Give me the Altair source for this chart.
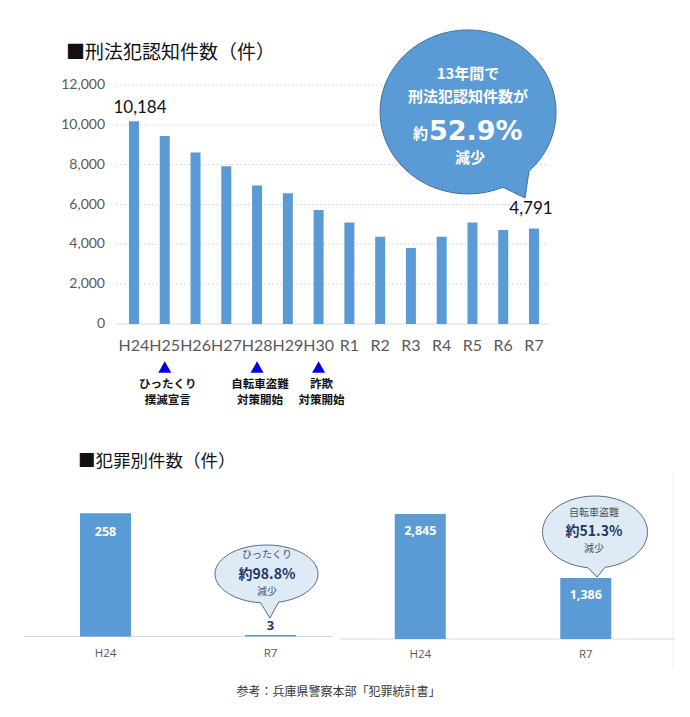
import altair as alt
import pandas as pd

# ---------------- data ----------------
years = ["H24", "H25", "H26", "H27", "H28", "H29", "H30", "R1", "R2", "R3", "R4", "R5", "R6", "R7"]
counts = [10184, 9440, 8610, 7920, 6950, 6560, 5730, 5100, 4380, 3820, 4380, 5090, 4720, 4791]
y_ticks = [0, 2000, 4000, 6000, 8000, 10000, 12000]
grid_ticks = [2000, 4000, 6000, 8000, 10000, 12000]

event_years = ["H25", "H28", "H30"]
event_line1 = ["ひったくり", "自転車盗難", "詐欺"]
event_line2 = ["撲滅宣言", "対策開始", "対策開始"]

periods = ["H24", "R7"]
snatch_counts = [258, 3]
bicycle_counts = [2845, 1386]

JP = "Noto Sans CJK JP"
LAT = "Lato"
BLUE = "#5B9BD5"
GRAY = "#595959"

top_df = pd.DataFrame({"year": years, "count": counts})
tick_df = pd.DataFrame({"v": y_ticks})
grid_df = pd.DataFrame({"v": grid_ticks})
event_df = pd.DataFrame({"year": event_years, "l1": event_line1, "l2": event_line2})
snatch_df = pd.DataFrame({"period": periods, "count": snatch_counts})
bike_df = pd.DataFrame({"period": periods, "count": bicycle_counts})

# ---------------- scales ----------------
xs_top = alt.Scale(type="band", domain=years, range=[118.6, 549.4], paddingInner=0, paddingOuter=0)
ys_top = alt.Scale(domain=[0, 12000], range=[324, 85], nice=False, zero=True)
xs_l = alt.Scale(type="band", domain=periods, range=[23, 353], paddingInner=0, paddingOuter=0)
ys_l = alt.Scale(domain=[0, 300], range=[636.5, 493.25], nice=False, zero=True)
xs_r = alt.Scale(type="band", domain=periods, range=[337.5, 668.5], paddingInner=0, paddingOuter=0)
ys_r = alt.Scale(domain=[0, 3000], range=[639, 507.2], nice=False, zero=True)

one = alt.Data(values=[{"a": 1}])


def label(txt, x, y, size, color="#000000", weight="normal", align="center",
          baseline="middle", font=JP):
    return alt.Chart(one).mark_text(
        text=txt, fontSize=size, color=color, fontWeight=weight, align=align,
        baseline=baseline, font=font
    ).encode(x=alt.value(x), y=alt.value(y))


def hline(x1, x2, y, color, dash=None, width=1):
    kw = dict(color=color, strokeWidth=width)
    if dash:
        kw["strokeDash"] = dash
    return alt.Chart(one).mark_rule(**kw).encode(x=alt.value(x1), x2=alt.value(x2), y=alt.value(y))


layers = []

# ---------------- top chart ----------------
layers.append(label("■刑法犯認知件数（件）", 66, 53, 19, "#111111", align="left"))

layers.append(alt.Chart(grid_df).mark_rule(color="#D9D9D9", strokeDash=[2, 2], strokeWidth=1).encode(
    y=alt.Y("v:Q", scale=ys_top, axis=None), x=alt.value(116), x2=alt.value(549)))
layers.append(hline(116, 549, 324, "#D9D9D9"))

layers.append(alt.Chart(tick_df).mark_text(align="right", baseline="middle", fontSize=14,
                                            color=GRAY, font=LAT).encode(
    y=alt.Y("v:Q", scale=ys_top, axis=None), x=alt.value(105),
    text=alt.Text("v:Q", format=",")))

layers.append(alt.Chart(top_df).mark_bar(size=10, color=BLUE).encode(
    x=alt.X("year:N", scale=xs_top, axis=None),
    y=alt.Y("count:Q", scale=ys_top, axis=None)))

layers.append(alt.Chart(top_df).mark_text(fontSize=16, color=GRAY, font=LAT, baseline="middle").encode(
    x=alt.X("year:N", scale=xs_top, axis=None), y=alt.value(346), text="year:N"))

first_df = top_df[top_df["year"] == "H24"]
last_df = top_df[top_df["year"] == "R7"]
layers.append(alt.Chart(first_df).mark_text(fontSize=17, color="#111111", font=LAT, dx=6, dy=-13,
                                             baseline="middle").encode(
    x=alt.X("year:N", scale=xs_top, axis=None), y=alt.Y("count:Q", scale=ys_top, axis=None),
    text=alt.Text("count:Q", format=",")))
layers.append(alt.Chart(last_df).mark_text(fontSize=17, color="#111111", font=LAT, dx=-3, dy=-20,
                                            baseline="middle").encode(
    x=alt.X("year:N", scale=xs_top, axis=None), y=alt.Y("count:Q", scale=ys_top, axis=None),
    text=alt.Text("count:Q", format=",")))

layers.append(alt.Chart(event_df).mark_point(shape="triangle-up", filled=True, size=170,
                                              color="#0000E6", opacity=1).encode(
    x=alt.X("year:N", scale=xs_top, axis=None), y=alt.value(367)))
layers.append(alt.Chart(event_df).mark_text(fontSize=11.5, fontWeight="bold", color="#111111", font=JP,
                                             dx=3, baseline="middle").encode(
    x=alt.X("year:N", scale=xs_top, axis=None), y=alt.value(385), text="l1:N"))
layers.append(alt.Chart(event_df).mark_text(fontSize=11.5, fontWeight="bold", color="#111111", font=JP,
                                             dx=3, baseline="middle").encode(
    x=alt.X("year:N", scale=xs_top, axis=None), y=alt.value(401), text="l2:N"))

# big speech bubble
big_bubble = "M0.35,0.752L0.57,0.86L0.61,0.591A0.88,0.82,0,1,0,0.35,0.752Z"
layers.append(alt.Chart(one).mark_point(shape=big_bubble, filled=True, size=40000, fill=BLUE,
                                        stroke="#41719C", strokeWidth=1, opacity=1).encode(
    x=alt.value(468), y=alt.value(112)))
layers.append(label("13年間で", 468, 74, 15, "#FFFFFF", "bold"))
layers.append(label("刑法犯認知件数が", 468, 97, 15, "#FFFFFF", "bold"))
layers.append(label("約", 428, 139, 15, "#FFFFFF", "bold", align="right", baseline="alphabetic"))
layers.append(label("52.9%", 429, 140, 27, "#FFFFFF", "bold", align="left", baseline="alphabetic",
                    font="DejaVu Sans"))
layers.append(label("減少", 470, 158, 15, "#FFFFFF", "bold"))

# ---------------- bottom charts ----------------
layers.append(label("■犯罪別件数（件）", 78, 462, 17.5, "#111111", align="left"))

layers.append(hline(24, 333, 636.5, "#D9D9D9"))
layers.append(hline(340, 675, 639, "#D9D9D9"))
layers.append(alt.Chart(one).mark_rule(color="#EDEDED").encode(
    x=alt.value(673), y=alt.value(472), y2=alt.value(668)))

# left: snatching
layers.append(alt.Chart(snatch_df).mark_bar(size=51, color=BLUE).encode(
    x=alt.X("period:N", scale=xs_l, axis=None), y=alt.Y("count:Q", scale=ys_l, axis=None)))
layers.append(alt.Chart(snatch_df).transform_filter(alt.datum.period == "H24").mark_text(
    fontSize=12.5, fontWeight="bold", color="#FFFFFF", font="Open Sans", dy=19, baseline="middle").encode(
    x=alt.X("period:N", scale=xs_l, axis=None), y=alt.Y("count:Q", scale=ys_l, axis=None),
    text=alt.Text("count:Q", format=",")))
layers.append(alt.Chart(snatch_df).transform_filter(alt.datum.period == "R7").mark_text(
    fontSize=13, fontWeight="bold", color="#1F3864", font="Open Sans", dy=-9, baseline="middle").encode(
    x=alt.X("period:N", scale=xs_l, axis=None), y=alt.Y("count:Q", scale=ys_l, axis=None),
    text=alt.Text("count:Q", format=",")))
layers.append(alt.Chart(snatch_df).mark_text(fontSize=11.5, color=GRAY, font="Open Sans", baseline="middle").encode(
    x=alt.X("period:N", scale=xs_l, axis=None), y=alt.value(654), text="period:N"))

# right: bicycle theft
layers.append(alt.Chart(bike_df).mark_bar(size=51, color=BLUE).encode(
    x=alt.X("period:N", scale=xs_r, axis=None), y=alt.Y("count:Q", scale=ys_r, axis=None)))
layers.append(alt.Chart(bike_df).mark_text(
    fontSize=12.5, fontWeight="bold", color="#FFFFFF", font="Open Sans", dy=17, baseline="middle").encode(
    x=alt.X("period:N", scale=xs_r, axis=None), y=alt.Y("count:Q", scale=ys_r, axis=None),
    text=alt.Text("count:Q", format=",")))
layers.append(alt.Chart(bike_df).mark_text(fontSize=11.5, color=GRAY, font="Open Sans", baseline="middle").encode(
    x=alt.X("period:N", scale=xs_r, axis=None), y=alt.value(655), text="period:N"))

# callouts
left_callout = "M-0.1,0.48L0.0583,0.7333L0.2,0.47A0.8583,0.4833,0,1,0,-0.1,0.48Z"
right_callout = "M-0.1167,0.5947L0.0333,0.75L0.1667,0.589A0.875,0.6,0,1,0,-0.1167,0.5947Z"
for shp, cx, cy in [(left_callout, 266.5, 574), (right_callout, 595, 532)]:
    layers.append(alt.Chart(one).mark_point(shape=shp, filled=True, size=14400, fill="#DEEBF7",
                                            stroke="#5A6B80", strokeWidth=1, opacity=1).encode(
        x=alt.value(cx), y=alt.value(cy)))

layers.append(label("ひったくり", 267, 555, 10, "#44546A"))
layers.append(label("約98.8%", 267, 575, 14, "#1F3864", "bold"))
layers.append(label("減少", 267, 592, 10, "#44546A"))
layers.append(label("自転車盗難", 594, 513, 10, "#44546A"))
layers.append(label("約51.3%", 594, 532, 14, "#1F3864", "bold"))
layers.append(label("減少", 594, 549, 10, "#44546A"))

layers.append(label("参考：兵庫県警察本部「犯罪統計書」", 338.5, 692, 12, "#333333"))

chart = alt.layer(*layers).resolve_scale(x="independent", y="independent").properties(
    width=690, height=717, padding=0, autosize=alt.AutoSizeParams(type="none")
).configure_view(stroke=None)

chart.save("out.html", embed_options={"renderer": "svg", "actions": False})
